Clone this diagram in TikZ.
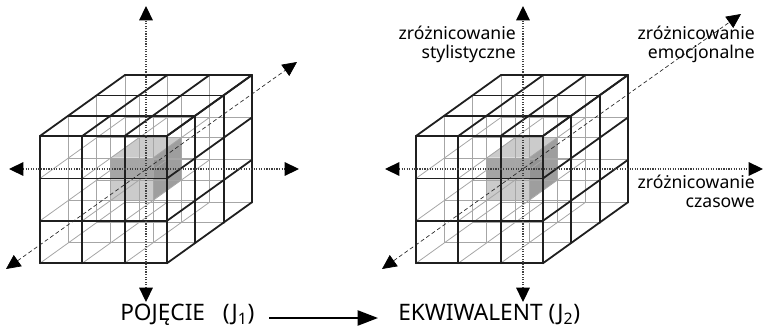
\documentclass[tikz,border=0pt]{standalone}
\usepackage{fontspec}
\setmainfont{Noto Sans}
\usetikzlibrary{arrows.meta}
\definecolor{cubegrey}{gray}{0.55}

\newcommand{\drawcube}{%
  % shaded cell
  \fill[cubegrey!45] (110.6,157.7)--(139,137.3)--(181.4,137.3)--(153,157.7)--cycle;
  \fill[cubegrey!45] (110.6,157.7) rectangle (153,200);
  \fill[cubegrey!85] (153,157.7)--(181.4,137.3)--(181.4,180)--(153,200)--cycle;
  \fill[cubegrey,opacity=0.6] (110.6,157.7) rectangle (167,179);
  % hidden grid
  \foreach \d in {1,2,3} {
    \foreach \i in {0,1,2} {
      \draw[hidden] ({68.3+(\d-1)*28.3+42.3*\i},{115.7-(\d-1)*20.3}) -- ++(0,127.3);
      \draw[hidden] ({68.3+(\d-1)*28.3},{158-(\d-1)*20.3+42.4*\i}) -- ++(126.7,0);
    }
  }
  \foreach \i in {1,2,3} \foreach \j in {1,2,3}
    \draw[hidden] ({40+42.3*(\i-1)},{136+42.4*\j}) -- ++(85,-61);
  % outer grid
  \foreach \i in {0,1,2,3} {
    \draw[outer] ({40+42.3*\i},136) -- ++(0,127.3);
    \draw[outer] (40,{136+42.4*\i}) -- ++(127,0);
    \draw[outer] ({40+42.3*\i},136) -- ++(85,-61);
    \draw[outer] (167,{136+42.4*\i}) -- ++(85,-61);
    \draw[outer] ({40+\i*28.3},{136-\i*20.3}) -- ++(127,0);
    \draw[outer] ({167+\i*28.3},{136-\i*20.3}) -- ++(0,127.3);
  }
}

\begin{document}
\begin{tikzpicture}[x=0.75pt,y=-0.75pt,
  hidden/.style={draw=black!35,line width=0.6pt},
  outer/.style={draw=black!88,line width=1.35pt,line cap=round},
  axis/.style={{Triangle[length=3.8mm,width=3.6mm,black]}-{Triangle[length=3.8mm,width=3.6mm,black]},
               densely dotted,line width=0.9pt,black!75},
  diag/.style={axis,densely dashed,line width=0.5pt,black!85},
  caption/.style={font=\fontsize{17}{18}\selectfont,inner sep=0pt},
  axislabel/.style={font=\fontsize{13.2}{14.2}\selectfont,align=right,
                    anchor=east,inner sep=0pt}]
\useasboundingbox (0,0) rectangle (763,332);

\drawcube
\begin{scope}[xshift=282pt]
\drawcube
\end{scope}

% axes
\coordinate (ltop) at (146,6);
\coordinate (lbot) at (146,302);
\coordinate (lwest) at (9,169);
\coordinate (least) at (299,169);
\coordinate (lsw) at (6,269);
\coordinate (lne) at (297,62);
\draw[axis] (lbot)--(ltop);
\draw[axis] (lwest)--(least);
\draw[diag] (lsw)--(lne);

\coordinate (rtop) at (523,6);
\coordinate (rbot) at (523,302);
\coordinate (rwest) at (385,169);
\coordinate (reast) at (763,169);
\coordinate (rsw) at (382,269);
\coordinate (rne) at (741,14);
\draw[axis] (rbot)--(rtop);
\draw[axis] (rwest)--(reast);
\draw[diag] (rsw)--(rne);

% labels
\node[axislabel] (styl) at (516,44) {zróżnicowanie\\stylistyczne};
\node[axislabel] (emo) at (755,44) {zróżnicowanie\\emocjonalne};
\node[axislabel] (czas) at (755,191) {zróżnicowanie\\czasowe};

\node[caption,anchor=west] (pojecie) at (120,315) {POJĘCIE\ \ \ (J\textsubscript{1})};
\node[caption,anchor=west] (ekw) at (398,315) {EKWIWALENT (J\textsubscript{2})};
\draw[-{Triangle[length=5.4mm,width=4mm]},line width=1.5pt,shorten <=11pt,shorten >=15pt]
  (pojecie.east |- 0,318) coordinate (arrstart) -- (ekw.west |- arrstart);
\end{tikzpicture}
\end{document}
